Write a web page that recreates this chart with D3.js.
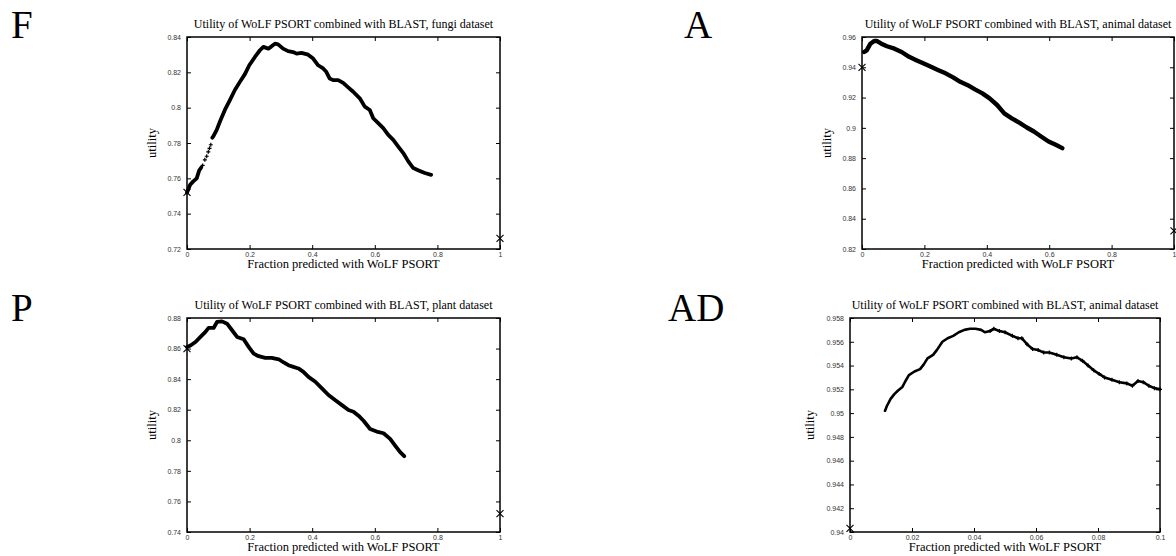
<!DOCTYPE html>
<html>
<head>
<meta charset="utf-8">
<script src="https://cdn.jsdelivr.net/npm/d3@7"></script>
<style>
  body { margin: 0; background: #fff; }
  .tick text { font-family: "Liberation Sans", Arial, sans-serif; font-size: 7px; fill: #333; }
  .ttl, .lab { font-family: "Liberation Serif", "Times New Roman", serif; fill: #000; }
  .letter { font-family: "Liberation Serif", serif; font-size: 39px; fill: #000; }
</style>
</head>
<body>
<script>
// fungi (F)
var fungiFrac = [0, 0.010, 0.020, 0.031, 0.039, 0.045, 0.050, 0.057, 0.063, 0.068, 0.072, 0.076, 0.081, 0.084, 0.095, 0.105, 0.121, 0.137, 0.153, 0.169, 0.185, 0.199, 0.217, 0.233, 0.244, 0.260, 0.270, 0.281, 0.291, 0.307, 0.323, 0.339, 0.350, 0.366, 0.387, 0.403, 0.419, 0.435, 0.445, 0.456, 0.467, 0.483, 0.499, 0.515, 0.531, 0.552, 0.568, 0.584, 0.595, 0.611, 0.627, 0.643, 0.659, 0.675, 0.691, 0.707, 0.723, 0.740, 0.760, 0.780];
var fungiUtil = [0.752, 0.7564, 0.7583, 0.760, 0.7645, 0.7660, 0.7673, 0.7705, 0.7725, 0.775, 0.7770, 0.779, 0.7830, 0.7837, 0.7874, 0.792, 0.7987, 0.8043, 0.810, 0.8146, 0.819, 0.824, 0.8287, 0.8325, 0.8344, 0.8334, 0.8347, 0.8362, 0.8358, 0.8334, 0.832, 0.8315, 0.8306, 0.831, 0.830, 0.8278, 0.824, 0.8222, 0.8203, 0.8165, 0.8156, 0.8156, 0.814, 0.8115, 0.809, 0.8053, 0.8006, 0.7987, 0.794, 0.7912, 0.7884, 0.7846, 0.7818, 0.778, 0.7743, 0.7696, 0.7658, 0.7645, 0.763, 0.762];
var fungiSparse = [0.048, 0.079];
var fungiCross = [[0, 0.752], [1, 0.726]];
var fungiTicksY = [0.72, 0.74, 0.76, 0.78, 0.80, 0.82, 0.84];

// animal (A)
var animalFrac = [0.007, 0.015, 0.027, 0.039, 0.047, 0.062, 0.080, 0.104, 0.127, 0.151, 0.174, 0.198, 0.221, 0.245, 0.268, 0.292, 0.315, 0.339, 0.362, 0.386, 0.409, 0.433, 0.456, 0.480, 0.504, 0.527, 0.551, 0.574, 0.598, 0.621, 0.642];
var animalUtil = [0.9501, 0.9512, 0.9556, 0.9574, 0.9574, 0.9556, 0.9539, 0.9523, 0.9501, 0.9469, 0.9447, 0.9425, 0.9403, 0.9381, 0.936, 0.9333, 0.9304, 0.9282, 0.9254, 0.9228, 0.9195, 0.9151, 0.9096, 0.9063, 0.9035, 0.9004, 0.8976, 0.8943, 0.891, 0.8888, 0.8866];
var animalCross = [[0, 0.940], [1, 0.832]];
var animalTicksY = [0.82, 0.84, 0.86, 0.88, 0.90, 0.92, 0.94, 0.96];

// plant (P)
var plantFrac = [0, 0.011, 0.027, 0.043, 0.059, 0.069, 0.085, 0.096, 0.112, 0.128, 0.144, 0.160, 0.181, 0.197, 0.213, 0.229, 0.250, 0.271, 0.293, 0.309, 0.324, 0.340, 0.356, 0.372, 0.388, 0.410, 0.431, 0.452, 0.473, 0.495, 0.516, 0.532, 0.548, 0.564, 0.585, 0.606, 0.628, 0.649, 0.665, 0.681, 0.694];
var plantUtil = [0.861, 0.862, 0.8643, 0.8676, 0.8709, 0.8735, 0.8735, 0.8774, 0.8778, 0.8763, 0.872, 0.8676, 0.8661, 0.8611, 0.8567, 0.855, 0.8539, 0.8539, 0.853, 0.8509, 0.8491, 0.848, 0.847, 0.8448, 0.8415, 0.8383, 0.834, 0.8296, 0.8263, 0.823, 0.8198, 0.8187, 0.8161, 0.8128, 0.8074, 0.8057, 0.8046, 0.8009, 0.7965, 0.7922, 0.7896];
var plantCross = [[0, 0.860], [1, 0.752]];
var plantTicksY = [0.74, 0.76, 0.78, 0.80, 0.82, 0.84, 0.86, 0.88];

// animal, first tenth (AD)
var adFrac = [0.0113, 0.0119, 0.0131, 0.0143, 0.0155, 0.0169, 0.0179, 0.0190, 0.0208, 0.0226, 0.0238, 0.0250, 0.0268, 0.0280, 0.0298, 0.0315, 0.0333, 0.0351, 0.0369, 0.0387, 0.0405, 0.0423, 0.0435, 0.0452, 0.0464, 0.0482, 0.0500, 0.0524, 0.0542, 0.0554, 0.0571, 0.0589, 0.0607, 0.0625, 0.0643, 0.0667, 0.0690, 0.0714, 0.0732, 0.0750, 0.0768, 0.0786, 0.0804, 0.0821, 0.0845, 0.0869, 0.0893, 0.0911, 0.0929, 0.0946, 0.0964, 0.0982, 0.1];
var adUtil = [0.9502, 0.9506, 0.9512, 0.9516, 0.9519, 0.9522, 0.9527, 0.9532, 0.9535, 0.9537, 0.9541, 0.9546, 0.9549, 0.9553, 0.956, 0.9563, 0.9565, 0.9568, 0.957, 0.9571, 0.9571, 0.957, 0.9568, 0.9569, 0.9571, 0.9569, 0.9568, 0.9565, 0.9563, 0.9563, 0.9558, 0.9554, 0.9553, 0.9551, 0.9551, 0.9549, 0.9547, 0.9546, 0.9547, 0.9544, 0.954, 0.9536, 0.9533, 0.953, 0.9528, 0.9526, 0.9525, 0.9523, 0.9527, 0.9526, 0.9523, 0.9521, 0.952];
var adSparse = [0.0445, 0.2];
var adCross = [[0, 0.9403]];
var adTicksY = [0.94, 0.942, 0.944, 0.946, 0.948, 0.95, 0.952, 0.954, 0.956, 0.958];

var fracTicks = [0, 0.2, 0.4, 0.6, 0.8, 1];
var fracTicksSmall = [0, 0.02, 0.04, 0.06, 0.08, 0.1];

var titles = ["Utility of WoLF PSORT combined with BLAST, fungi dataset",
              "Utility of WoLF PSORT combined with BLAST, animal dataset",
              "Utility of WoLF PSORT combined with BLAST, plant dataset",
              "Utility of WoLF PSORT combined with BLAST, animal dataset"];
var letters = ["F", "A", "P", "AD"];

var svg = d3.select("body").append("svg")
    .attr("width", 1176)
    .attr("height", 556);

svg.append("rect").attr("width", 1176).attr("height", 556).attr("fill", "#fff");

var panels = [
  { letter: letters[0], lx: 11, ly: 38, title: titles[0], box: [187, 37, 500, 249], xd: [0, 1], xt: fracTicks, yt: fungiTicksY, xs: fungiFrac, ys: fungiUtil, sparse: fungiSparse, cross: fungiCross, w: 3.8, yl: 31 },
  { letter: letters[1], lx: 684, ly: 38, title: titles[1], box: [862, 37, 1174, 249], xd: [0, 1], xt: fracTicks, yt: animalTicksY, xs: animalFrac, ys: animalUtil, sparse: null, cross: animalCross, w: 4.4, yl: 31 },
  { letter: letters[2], lx: 11, ly: 321, title: titles[2], box: [187, 318, 500, 532], xd: [0, 1], xt: fracTicks, yt: plantTicksY, xs: plantFrac, ys: plantUtil, sparse: null, cross: plantCross, w: 3.8, yl: 31 },
  { letter: letters[3], lx: 668, ly: 321, title: titles[3], box: [850, 318, 1160, 532], xd: [0, 0.1], xt: fracTicksSmall, yt: adTicksY, xs: adFrac, ys: adUtil, sparse: adSparse, cross: adCross, w: 2.6, yl: 36 }
];

panels.forEach(function(p) {
  var x0 = p.box[0], y0 = p.box[1], x1 = p.box[2], y1 = p.box[3];
  var x = d3.scaleLinear().domain(p.xd).range([x0, x1]);
  var y = d3.scaleLinear().domain(d3.extent(p.yt)).range([y1, y0]);
  var g = svg.append("g");

  g.append("text").attr("class", "letter").attr("x", p.lx).attr("y", p.ly).text(p.letter);

  // axes, gnuplot style: inward ticks mirrored on top and right
  g.append("g").attr("class", "tick")
    .attr("transform", "translate(0," + y1 + ")")
    .call(d3.axisBottom(x).tickValues(p.xt).tickSize(-4).tickPadding(3).tickFormat(d3.format("~g")))
    .call(function(s) { s.select(".domain").remove(); });
  g.append("g")
    .attr("transform", "translate(0," + y0 + ")")
    .call(d3.axisTop(x).tickValues(p.xt).tickSize(-4).tickFormat(""))
    .call(function(s) { s.select(".domain").remove(); });
  g.append("g").attr("class", "tick")
    .attr("transform", "translate(" + x0 + ",0)")
    .call(d3.axisLeft(y).tickValues(p.yt).tickSize(-4).tickPadding(6).tickFormat(d3.format("~g")))
    .call(function(s) { s.select(".domain").remove(); });
  g.append("g")
    .attr("transform", "translate(" + x1 + ",0)")
    .call(d3.axisRight(y).tickValues(p.yt).tickSize(-4).tickFormat(""))
    .call(function(s) { s.select(".domain").remove(); });
  g.selectAll(".tick text").attr("font-family", null).attr("font-size", null);
  g.selectAll(".tick line").attr("stroke", "#000").attr("stroke-width", 1);

  g.append("rect")
    .attr("x", x0).attr("y", y0).attr("width", x1 - x0).attr("height", y1 - y0)
    .attr("fill", "none").attr("stroke", "#000").attr("stroke-width", 1.5);

  // title and labels
  g.append("text").attr("class", "ttl")
    .attr("x", (x0 + x1) / 2).attr("y", y0 - 9)
    .attr("text-anchor", "middle").style("font-size", "12px")
    .text(p.title);
  g.append("text").attr("class", "lab")
    .attr("x", (x0 + x1) / 2).attr("y", y1 + 19)
    .attr("text-anchor", "middle").style("font-size", "12.5px")
    .text("Fraction predicted with WoLF PSORT");
  g.append("text").attr("class", "lab")
    .attr("transform", "translate(" + (x0 - p.yl) + "," + ((y0 + y1) / 2) + ") rotate(-90)")
    .attr("text-anchor", "middle").style("font-size", "12.5px")
    .text("utility");

  // curve: thick where the points are dense, loose "+" marks where they thin out
  var pts = p.xs.map(function(v, i) { return [v, p.ys[i]]; });
  var inSparse = function(d) { return p.sparse && d[0] > p.sparse[0] && d[0] < p.sparse[1]; };
  g.append("path")
    .datum(pts)
    .attr("fill", "none")
    .attr("stroke", "#000")
    .attr("stroke-width", p.w)
    .attr("stroke-linejoin", "round")
    .attr("stroke-linecap", "round")
    .attr("d", d3.line()
      .defined(function(d) { return !inSparse(d) || p.xd[1] < 0.5; })
      .x(function(d) { return x(d[0]); })
      .y(function(d) { return y(d[1]); }));

  g.selectAll(".plus")
    .data(pts.filter(inSparse))
    .enter().append("path")
    .attr("class", "plus")
    .attr("transform", function(d) { return "translate(" + x(d[0]) + "," + y(d[1]) + ")"; })
    .attr("d", "M-2,0L2,0M0,-2L0,2")
    .attr("stroke", "#000").attr("stroke-width", 1.2);

  // cross markers
  g.selectAll(".cross")
    .data(p.cross)
    .enter().append("path")
    .attr("class", "cross")
    .attr("transform", function(d) { return "translate(" + x(d[0]) + "," + y(d[1]) + ")"; })
    .attr("d", "M-3.5,-3.5L3.5,3.5M-3.5,3.5L3.5,-3.5")
    .attr("stroke", "#000").attr("stroke-width", 1.1).attr("fill", "none");
});
</script>
</body>
</html>
